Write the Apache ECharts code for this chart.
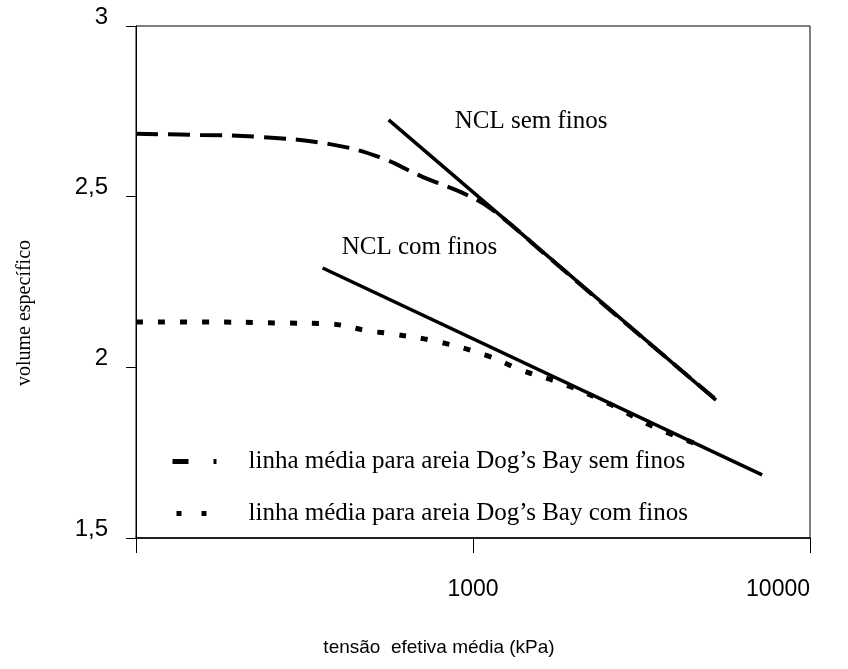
<!DOCTYPE html>
<html>
<head>
<meta charset="utf-8">
<script src="https://cdn.jsdelivr.net/npm/echarts@6/dist/echarts.min.js"></script>
<style>
  html, body { margin: 0; padding: 0; background: #fff; }
  #chart { width: 848px; height: 669px; }
</style>
</head>
<body>
<div id="chart"></div>
<script>
// Mean lines for Dog's Bay sand: mean effective stress (kPa) vs specific volume
const semFinosP = [100, 155, 233, 376, 528, 708, 931, 1143, 1687, 2717, 5197];
const semFinosV = [2.684, 2.681, 2.675, 2.654, 2.616, 2.558, 2.511, 2.461, 2.320, 2.145, 1.910];

const comFinosP = [100, 155, 267, 376, 494, 577, 796, 1089, 1393, 1892, 2536, 3449, 4856];
const comFinosV = [2.133, 2.133, 2.130, 2.127, 2.106, 2.098, 2.074, 2.036, 1.992, 1.948, 1.893, 1.825, 1.767];

// Normal compression lines (straight in semi-log space)
const nclSemP = [562, 5260];
const nclSemV = [2.725, 1.904];
const nclComP = [358, 7210];
const nclComV = [2.291, 1.685];

const seriesNames = [
  'linha média para areia Dog\u2019s Bay sem finos',
  'linha média para areia Dog\u2019s Bay com finos'
];
const nclNames = ['NCL sem finos', 'NCL com finos'];
const xTitle = 'tensão  efetiva média (kPa)';
const yTitle = 'volume específico';

const zip = (xs, ys) => xs.map((x, i) => [x, ys[i]]);

const serif = '"Liberation Serif", "Times New Roman", serif';
const sans = '"Liberation Sans", Arial, sans-serif';

const chart = echarts.init(document.getElementById('chart'), null, { renderer: 'canvas' });

chart.setOption({
  animation: false,
  backgroundColor: '#fff',
  color: ['#000', '#000', '#000', '#000'],
  grid: {
    left: 136, right: 38, top: 26, bottom: 131,
    show: true, borderColor: '#000', borderWidth: 1
  },
  legend: {
    orient: 'vertical',
    left: 170,
    top: 449,
    padding: 0,
    itemWidth: 71,
    itemHeight: 24,
    itemGap: 27,
    textStyle: { fontFamily: serif, fontSize: 25, color: '#000' },
    data: [
      { name: seriesNames[0],
        itemStyle: { opacity: 0 },
        lineStyle: { type: [16, 25, 3, 60], width: 5, color: '#000' } },
      { name: seriesNames[1],
        itemStyle: { opacity: 0 },
        lineStyle: { type: [0, 4, 5, 20, 5, 80], width: 5, color: '#000' } }
    ]
  },
  xAxis: {
    type: 'log',
    logBase: 10,
    min: 100,
    max: 10000,
    name: xTitle,
    nameLocation: 'middle',
    nameGap: 100,
    nameTextStyle: { fontFamily: sans, fontSize: 19, color: '#000', padding: [0, 68, 0, 0] },
    axisLine: { lineStyle: { color: '#000', width: 1.5 } },
    axisTick: { show: true, length: 15, lineStyle: { color: '#000' } },
    minorTick: { show: false },
    splitLine: { show: false },
    axisLabel: {
      margin: 40,
      fontFamily: sans, fontSize: 23, color: '#000',
      alignMaxLabel: 'right',
      formatter: v => (v <= 100 ? '' : String(v))
    }
  },
  yAxis: {
    type: 'value',
    min: 1.5,
    max: 3,
    interval: 0.5,
    name: yTitle,
    nameLocation: 'middle',
    nameGap: 101,
    nameTextStyle: { fontFamily: serif, fontSize: 20, color: '#000', padding: [0, 62, 0, 0] },
    axisLine: { show: true, lineStyle: { color: '#000', width: 1 } },
    axisTick: { show: true, length: 10, lineStyle: { color: '#000' } },
    splitLine: { show: false },
    axisLabel: {
      margin: 28,
      fontFamily: sans, fontSize: 24, color: '#000',
      verticalAlign: 'bottom',
      lineHeight: 18,
      formatter: v => String(v).replace('.', ',')
    }
  },
  series: [
    {
      name: seriesNames[0],
      type: 'line',
      data: zip(semFinosP, semFinosV),
      smooth: 0.4,
      symbol: 'none',
      lineStyle: { color: '#000', width: 4, type: [22, 10] },
      z: 3
    },
    {
      name: seriesNames[1],
      type: 'line',
      data: zip(comFinosP, comFinosV),
      smooth: 0.4,
      symbol: 'none',
      lineStyle: { color: '#000', width: 5, type: [7, 15] },
      z: 3
    },
    {
      name: nclNames[0],
      type: 'line',
      data: zip(nclSemP, nclSemV),
      symbol: 'none',
      lineStyle: { color: '#000', width: 3.5, type: 'solid' },
      z: 2,
      markPoint: {
        symbol: 'circle', symbolSize: 0,
        label: {
          show: true, position: 'inside', align: 'left', verticalAlign: 'middle',
          offset: [66, 2], fontFamily: serif, fontSize: 25, color: '#000',
          formatter: nclNames[0]
        },
        data: [{ coord: [nclSemP[0], nclSemV[0]] }]
      }
    },
    {
      name: nclNames[1],
      type: 'line',
      data: zip(nclComP, nclComV),
      symbol: 'none',
      lineStyle: { color: '#000', width: 3.5, type: 'solid' },
      z: 2,
      markPoint: {
        symbol: 'circle', symbolSize: 0,
        label: {
          show: true, position: 'inside', align: 'left', verticalAlign: 'middle',
          offset: [19, -21], fontFamily: serif, fontSize: 25, color: '#000',
          formatter: nclNames[1]
        },
        data: [{ coord: [nclComP[0], nclComV[0]] }]
      }
    }
  ]
});
</script>
</body>
</html>
